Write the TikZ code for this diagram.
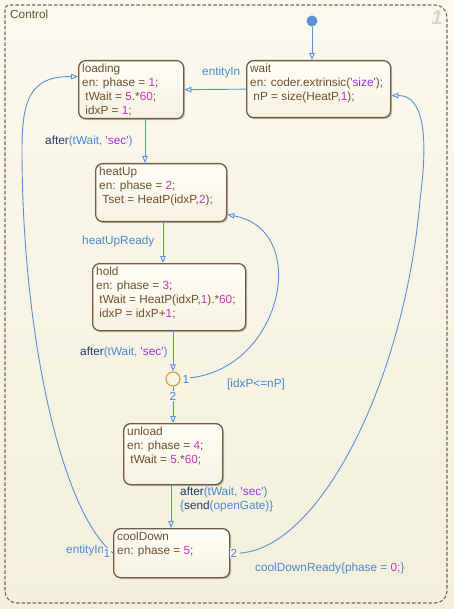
\documentclass[tikz,border=0pt]{standalone}
\usepackage{fontspec}
\setmainfont{Liberation Sans}
\usetikzlibrary{arrows.meta,shadows}
\definecolor{bgtop}{HTML}{FBF9EE}
\definecolor{bgbot}{HTML}{F3EFDC}
\definecolor{bgmid}{HTML}{F8F5E7}
\definecolor{sborder}{HTML}{735A43}
\definecolor{stext}{HTML}{6E4F30}
\definecolor{mnumc}{HTML}{CC33BB}
\definecolor{mstrc}{HTML}{A030E0}
\definecolor{tline}{HTML}{5B90D8}
\definecolor{tlabel}{HTML}{4A88D0}
\definecolor{tkw}{HTML}{1E3A66}
\definecolor{jorange}{HTML}{D99A2B}
\definecolor{outerb}{HTML}{7A6652}
\definecolor{sfilltop}{HTML}{FFFEF7}
\definecolor{sfillbot}{HTML}{F6F2E2}
\definecolor{cornergray}{HTML}{DAD8CE}
\newcommand{\mnum}[1]{\textcolor{mnumc}{#1}}
\newcommand{\mstr}[1]{\textcolor{mstrc}{#1}}
\newcommand{\mkw}[1]{\textcolor{tkw}{#1}}
\newcommand{\sq}{\textquotesingle}
\begin{document}
\begin{tikzpicture}[x=1pt,y=-1pt,
  font=\fontsize{11.8}{14}\selectfont,
  statebox/.style={draw=sborder, line width=1.3pt, rounded corners=7pt,
    top color=sfilltop, bottom color=sfillbot,
    drop shadow={shadow xshift=1.5pt,shadow yshift=-1.5pt,opacity=0.3,fill=black!60},
    anchor=north west, inner sep=0pt},
  statetext/.style={anchor=north west, inner sep=0pt, align=left, text=stext},
  trans/.style={draw=tline, line width=0.9pt, -{Triangle[open,length=7pt,width=5.5pt]}},
  tlab/.style={text=tlabel, inner sep=0pt, anchor=base west},
  ord/.style={text=tlabel, fill=bgmid, inner sep=1pt}]
\useasboundingbox (0,0) rectangle (454,609);
\fill[top color=bgtop, bottom color=bgbot] (0,0) rectangle (454,609);
\draw[draw=outerb, line width=1.1pt, dash pattern=on 3.5pt off 2pt]
  (5,300) [rounded corners=4pt] -- (5,5) [rounded corners=12pt] -- (447,5) -- (447,603) -- (5,603) -- cycle;
\node[text=stext, inner sep=0pt, anchor=base west] (ctl) at (10,19) {Control};
\node[text=cornergray, font=\fontsize{20}{20}\selectfont\bfseries\itshape] (cnum) at (437,18) {1};

% states
\node[statebox, minimum width=105pt, minimum height=58pt] (loading) at (78,60) {};
\node[statebox, minimum width=144pt, minimum height=57pt] (wait) at (246,60) {};
\node[statebox, minimum width=131pt, minimum height=58pt] (heatUp) at (95,163) {};
\node[statebox, minimum width=153pt, minimum height=67pt] (hold) at (92,263) {};
\node[statebox, minimum width=99pt, minimum height=61pt] (unload) at (123,423) {};
\node[statebox, minimum width=116pt, minimum height=49pt] (coolDown) at (113,528) {};

\node[statetext] (loadingT) at ([xshift=4pt,yshift=-2.2pt]loading.north west)
  {\strut loading\\en: phase = \mnum{1};\\\ tWait = \mnum{5}.*\mnum{60};\\\ idxP = \mnum{1};};
\node[statetext] (waitT) at ([xshift=4pt,yshift=-2.2pt]wait.north west)
  {\strut wait\\en: coder.extrinsic(\mstr{\sq size\sq});\\\ nP = size(HeatP,\mnum{1});};
\node[statetext] (heatUpT) at ([xshift=4pt,yshift=-2.2pt]heatUp.north west)
  {\strut heatUp\\en: phase = \mnum{2};\\\ Tset = HeatP(idxP,\mnum{2});};
\node[statetext] (holdT) at ([xshift=4pt,yshift=-2.2pt]hold.north west)
  {\strut hold\\en: phase = \mnum{3};\\\ tWait = HeatP(idxP,\mnum{1}).*\mnum{60};\\\ idxP = idxP+\mnum{1};};
\node[statetext] (unloadT) at ([xshift=4pt,yshift=-2.2pt]unload.north west)
  {\strut unload\\en: phase = \mnum{4};\\\ tWait = \mnum{5}.*\mnum{60};};
\node[statetext] (coolDownT) at ([xshift=4pt,yshift=-2.2pt]coolDown.north west)
  {\strut coolDown\\en: phase = \mnum{5};};

% initial and junction
\node[circle, fill=tline, minimum size=11pt, inner sep=0pt] (init) at (312,21) {};
\node[circle, draw=jorange, line width=1.1pt, minimum size=14pt, inner sep=0pt] (j) at (173,379) {};

\coordinate (xA) at (145,0);
\coordinate (xB) at (163,0);
\coordinate (xC) at (171,0);
\coordinate (j1) at (188,378);
\coordinate (c2) at (240,553);

% transitions
\draw[trans] (init) -- (init |- wait.north);
\draw[trans] (wait.west) -- (loading.east);
\draw[trans] (loading.south -| xA) -- (heatUp.north -| xA);
\draw[trans] (heatUp.south -| xB) -- (hold.north -| xB);
\draw[trans] (hold.south -| j) -- (j.north);
\draw[trans] (j.south) -- (unload.north -| j);
\draw[trans] (unload.south -| xC) -- (coolDown.north -| xC);
\draw[trans] (j1) .. controls (282,370) and (312,230) .. ([yshift=-22pt]heatUp.east);
\draw[trans] (c2) .. controls (320,548) and (405,380) .. (420,200)
  .. controls (428,140) and (425,95) .. ([yshift=-6.5pt]wait.east);
\draw[trans] (coolDown.west) .. controls (60,510) and (22,330) .. (22,150)
  .. controls (22,100) and (30,76) .. ([yshift=13pt]loading.west);

% labels
\node[tlab] (lEntity) at (202,76) {entityIn};
\node[tlab] (lAfter1) at (45,145) {\mkw{after}(tWait, \mstr{\sq sec\sq})};
\node[tlab] (lHeat) at (82,244) {heatUpReady};
\node[tlab] (lAfter2) at (80,355) {\mkw{after}(tWait, \mstr{\sq sec\sq})};
\node[tlab] (lIdx) at (227,387) {[idxP<=nP]};
\node[tlab] (lAfter3) at (180,495) {\mkw{after}(tWait, \mstr{\sq sec\sq})};
\node[tlab] (lSend) at (180,509) {\{\mkw{send}(openGate)\}};
\node[tlab] (lEntity2) at (66,553) {entityIn};
\node[tlab] (lCool) at (255,571) {coolDownReady\{phase = \mnum{0};\}};

\node[ord] (o1) at (186,379) {1};
\node[ord] (o2) at (173,396) {2};
\node[ord] (o3) at (107,553) {1};
\node[ord] (o4) at (234,553) {2};
\end{tikzpicture}
\end{document}
